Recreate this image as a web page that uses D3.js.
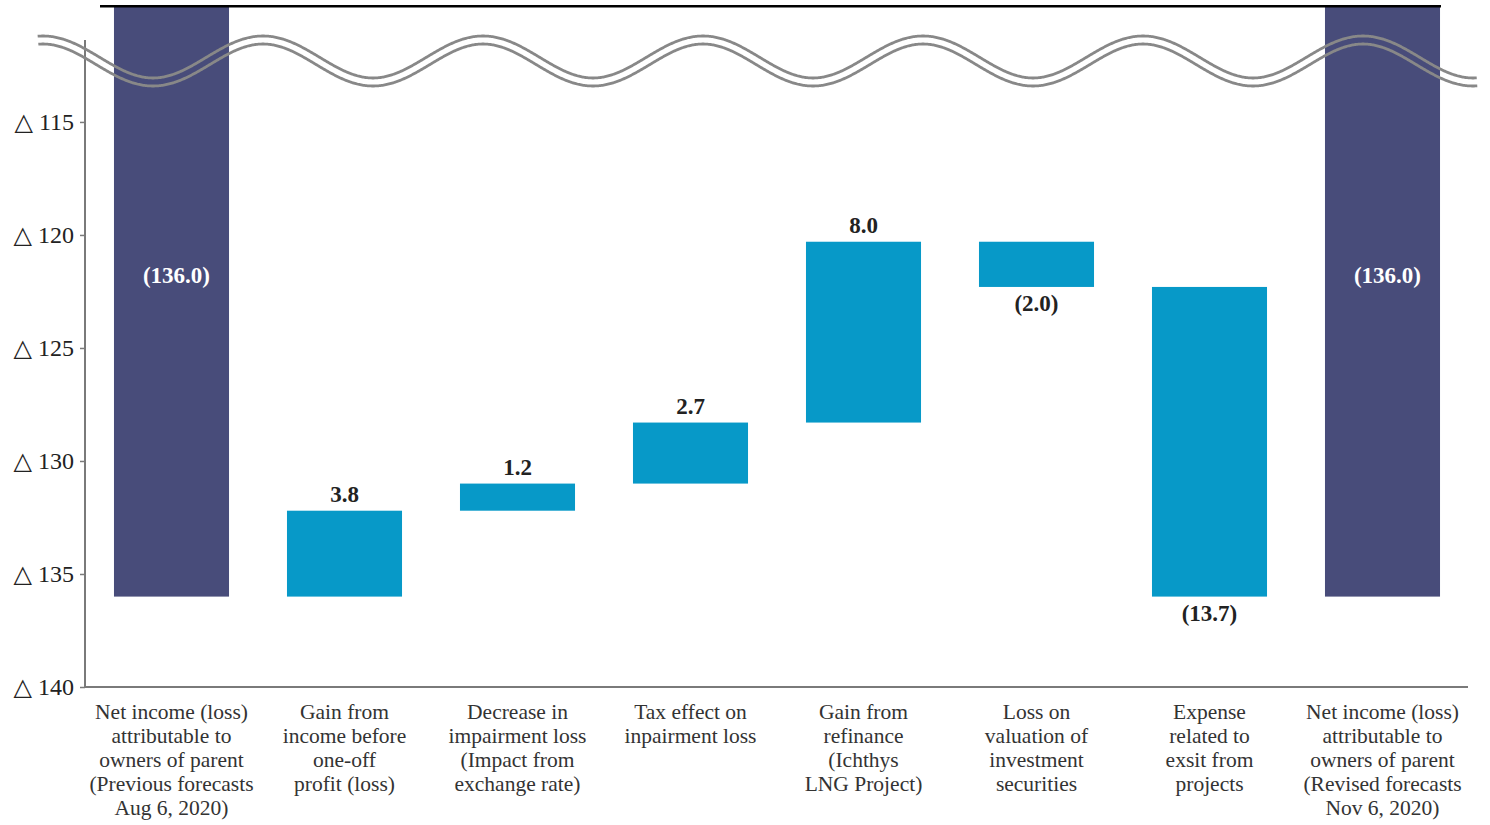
<!DOCTYPE html>
<html>
<head>
<meta charset="utf-8">
<script src="https://cdn.jsdelivr.net/npm/d3@7"></script>
<style>
  html, body { margin: 0; padding: 0; background: #fff; }
  svg { display: block; }
  text { font-family: "Liberation Serif", "DejaVu Serif", serif; }
</style>
</head>
<body>
<svg id="chart" width="1490" height="825"></svg>
<script>
// Net income bridge (billion yen): previous forecast -> revised forecast
const categories = [
  "Net income (loss)|attributable to|owners of parent|(Previous forecasts|Aug 6, 2020)",
  "Gain from|income before|one-off|profit (loss)",
  "Decrease in|impairment loss|(Impact from|exchange rate)",
  "Tax effect on|inpairment loss",
  "Gain from|refinance|(Ichthys|LNG Project)",
  "Loss on|valuation of|investment|securities",
  "Expense|related to|exsit from|projects",
  "Net income (loss)|attributable to|owners of parent|(Revised forecasts|Nov 6, 2020)"
];
const kinds = ["total", "delta", "delta", "delta", "delta", "delta", "delta", "total"];
const values = [-136.0, 3.8, 1.2, 2.7, 8.0, -2.0, -13.7, -136.0];
const valueLabels = ["(136.0)", "3.8", "1.2", "2.7", "8.0", "(2.0)", "(13.7)", "(136.0)"];
const tickValues = [-115, -120, -125, -130, -135, -140];
const tickLabels = ["△ 115", "△ 120", "△ 125", "△ 130", "△ 135", "△ 140"];

const svg = d3.select("#chart");
const navy = "#484c7a", blue = "#0799c8", axisGray = "#7a7a7a";

const x = d3.scaleBand().domain(d3.range(categories.length))
  .range([85, 1469]).paddingInner(0.335).paddingOuter(0.1675);
const y = d3.scaleLinear().domain([-140, -109.87]).range([687, 6]).clamp(true);

// running totals for the waterfall
let run = 0;
const bars = values.map((v, i) => {
  if (kinds[i] === "total") { run = v; return { i, v, y0: 0, y1: v, kind: "total" }; }
  const start = run; run = start + v;
  return { i, v, y0: start, y1: run, kind: "delta" };
});

svg.append("g").selectAll("rect").data(bars).join("rect")
  .attr("x", d => x(d.i))
  .attr("width", x.bandwidth())
  .attr("y", d => y(Math.max(d.y0, d.y1)))
  .attr("height", d => Math.abs(y(d.y0) - y(d.y1)))
  .attr("fill", d => d.kind === "total" ? navy : blue);

// top frame line across the broken range
svg.append("line")
  .attr("x1", 100).attr("x2", 1441).attr("y1", y.range()[1] + 0.3).attr("y2", y.range()[1] + 0.3)
  .attr("stroke", "#000").attr("stroke-width", 2.6);

// value labels
svg.append("g").selectAll("text").data(bars).join("text")
  .attr("x", d => x(d.i) + x.bandwidth() / 2 + (d.kind === "total" ? 5 : 0))
  .attr("y", d => {
    if (d.kind === "total") return 283;
    return d.v >= 0 ? y(d.y1) - 9 : y(d.y1) + 24;
  })
  .attr("text-anchor", "middle")
  .attr("font-size", 23).attr("font-weight", "bold")
  .attr("fill", d => d.kind === "total" ? "#fff" : "#222")
  .text((d, i) => valueLabels[i]);

// y axis
const yAxis = d3.axisLeft(y).tickValues(tickValues).tickSize(5).tickPadding(6)
  .tickFormat((d, i) => tickLabels[i]);
const gy = svg.append("g").attr("transform", "translate(85,0)").call(yAxis);
gy.select(".domain").remove();
gy.selectAll(".tick line").attr("stroke", axisGray).attr("stroke-width", 1.5);
gy.selectAll(".tick text").attr("font-size", 24).attr("fill", "#222")
  .attr("font-family", "'Liberation Serif', 'DejaVu Serif', serif");
svg.append("line").attr("x1", 85).attr("x2", 85).attr("y1", 40).attr("y2", 687)
  .attr("stroke", axisGray).attr("stroke-width", 2);
svg.append("line").attr("x1", 84).attr("x2", 1468).attr("y1", 687).attr("y2", 687)
  .attr("stroke", axisGray).attr("stroke-width", 2);

// category labels
const cat = svg.append("g").selectAll("text").data(categories).join("text")
  .attr("text-anchor", "middle").attr("font-size", 21.5).attr("fill", "#333")
  .attr("x", (d, i) => x(i) + x.bandwidth() / 2);
cat.each(function (d, i) {
  const t = d3.select(this);
  d.split("|").forEach((line, k) => {
    t.append("tspan").attr("x", x(i) + x.bandwidth() / 2).attr("y", 719 + k * 24).text(line);
  });
});

// axis break: two parallel wavy lines
const waveStart = 38, waveEnd = 1477, period = 220, phase = 263, mid = 61, amp = 21, gap = 4;
const pts = d3.range(waveStart, waveEnd + 0.1, 1).map(px => {
  const th = 2 * Math.PI * (px - phase) / period;
  const py = mid - amp * Math.cos(th);
  const dy = amp * Math.sin(th) * 2 * Math.PI / period;
  const n = Math.hypot(1, dy);
  return { px, py, nx: -dy / n, ny: 1 / n };
});
const line = d3.line().curve(d3.curveLinear);
[-gap, gap].forEach(off => {
  svg.append("path")
    .attr("d", line(pts.map(p => [p.px + p.nx * off, p.py + p.ny * off])))
    .attr("fill", "none").attr("stroke", "#888").attr("stroke-width", 2.8);
});
</script>
</body>
</html>
